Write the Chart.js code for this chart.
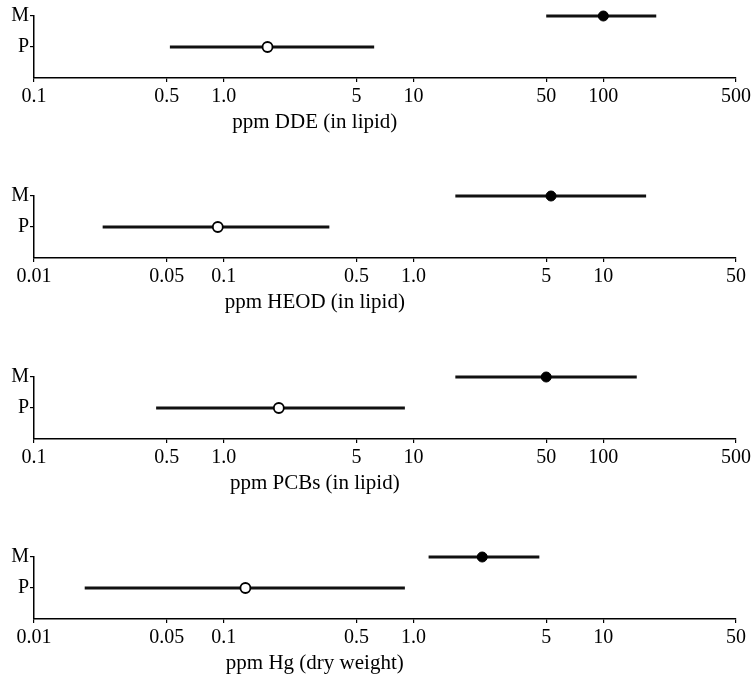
<!DOCTYPE html>
<html>
<head>
<meta charset="utf-8">
<script src="https://cdn.jsdelivr.net/npm/chart.js@4.4.1/dist/chart.umd.min.js"></script>
<style>
  html, body { margin: 0; padding: 0; background: #fff; overflow: hidden; }
  body { width: 754px; height: 676px; position: relative; }
  canvas { position: absolute; left: 0; }
</style>
</head>
<body>
<canvas id="dde" width="754" height="180" style="top:0px"></canvas>
<canvas id="heod" width="754" height="180" style="top:180px"></canvas>
<canvas id="pcb" width="754" height="180" style="top:361px"></canvas>
<canvas id="hg" width="754" height="180" style="top:541px"></canvas>
<script>
// two rows in every panel, M on top, P below
const rowLabels = ['M', 'P'];
const rowLevels = [2, 1];

// [M, P] for each pollutant: low end, mean, high end of range (ppm)
const ddeLow = [50, 0.52];
const ddeMean = [100, 1.7];
const ddeHigh = [190, 6.2];

const heodLow = [1.66, 0.023];
const heodMean = [5.3, 0.093];
const heodHigh = [16.8, 0.36];

const pcbLow = [16.6, 0.44];
const pcbMean = [50, 1.95];
const pcbHigh = [150, 9.0];

const hgLow = [1.2, 0.0185];
const hgMean = [2.3, 0.13];
const hgHigh = [4.6, 0.9];

// log axis ticks
const ticksWide = [0.1, 0.5, 1, 5, 10, 50, 100, 500];
const ticksWideText = ['0.1', '0.5', '1.0', '5', '10', '50', '100', '500'];
const ticksNarrow = [0.01, 0.05, 0.1, 0.5, 1, 5, 10, 50];
const ticksNarrowText = ['0.01', '0.05', '0.1', '0.5', '1.0', '5', '10', '50'];

Chart.defaults.font.family = '"Liberation Serif", "DejaVu Serif", serif';
Chart.defaults.color = '#000';

// axis caption, set a bit left of the axis centre like the printed figure
const captionPlugin = {
    id: 'caption',
    afterDraw(chart, args, opts) {
        const ctx = chart.ctx;
        const area = chart.chartArea;
        ctx.save();
        ctx.font = opts.size + 'px "Liberation Serif", serif';
        ctx.fillStyle = '#000';
        ctx.textAlign = 'center';
        ctx.textBaseline = 'middle';
        ctx.fillText(opts.text, area.left + opts.at * (area.right - area.left), area.bottom + opts.gap);
        ctx.restore();
    }
};

function makePanel(id, low, mean, high, ticks, tickText, title) {
    const ranges = rowLevels.map((lvl, i) => ({
        data: [{ x: low[i], y: lvl }, { x: high[i], y: lvl }],
        showLine: true,
        borderColor: '#111',
        borderWidth: 2.8,
        pointRadius: 0,
        clip: false,
        order: 2
    }));

    const means = {
        data: rowLevels.map((lvl, i) => ({ x: mean[i], y: lvl })),
        pointRadius: 5,
        pointBackgroundColor: ['#000', '#fff'],
        pointBorderColor: '#000',
        pointBorderWidth: [1, 1.8],
        clip: false,
        order: 1
    };

    new Chart(document.getElementById(id), {
        type: 'scatter',
        data: { datasets: [means].concat(ranges) },
        plugins: [captionPlugin],
        options: {
            responsive: false,
            animation: false,
            events: [],
            layout: { padding: { top: 16, right: 18, left: 0, bottom: 0 } },
            plugins: {
                legend: { display: false },
                tooltip: { enabled: false },
                caption: { text: title, at: 0.4, gap: 44, size: 21 }
            },
            scales: {
                x: {
                    type: 'logarithmic',
                    min: ticks[0],
                    max: ticks[ticks.length - 1],
                    afterBuildTicks: s => { s.ticks = ticks.map(v => ({ value: v })); },
                    afterFit: s => { s.height = 102; },
                    ticks: {
                        callback: (v, i) => tickText[i],
                        font: { size: 20 },
                        color: '#000',
                        padding: 3,
                        maxRotation: 0,
                        autoSkip: false
                    },
                    grid: { drawOnChartArea: false, tickLength: 4, color: '#000', lineWidth: 1.2 },
                    border: { color: '#000', width: 1.5 }
                },
                y: {
                    type: 'linear',
                    min: 0,
                    max: 2,
                    afterBuildTicks: s => { s.ticks = rowLevels.map(v => ({ value: v })); },
                    afterFit: s => { s.width = 34; },
                    ticks: {
                        callback: (v, i) => rowLabels[i],
                        font: { size: 20 },
                        color: '#000',
                        padding: 1
                    },
                    grid: { drawOnChartArea: false, tickLength: 4, color: '#000', lineWidth: 1.2 },
                    border: { color: '#000', width: 1.5 }
                }
            }
        }
    });
}

makePanel('dde', ddeLow, ddeMean, ddeHigh, ticksWide, ticksWideText, 'ppm DDE (in lipid)');
makePanel('heod', heodLow, heodMean, heodHigh, ticksNarrow, ticksNarrowText, 'ppm HEOD (in lipid)');
makePanel('pcb', pcbLow, pcbMean, pcbHigh, ticksWide, ticksWideText, 'ppm PCBs (in lipid)');
makePanel('hg', hgLow, hgMean, hgHigh, ticksNarrow, ticksNarrowText, 'ppm Hg (dry weight)');
</script>
</body>
</html>
